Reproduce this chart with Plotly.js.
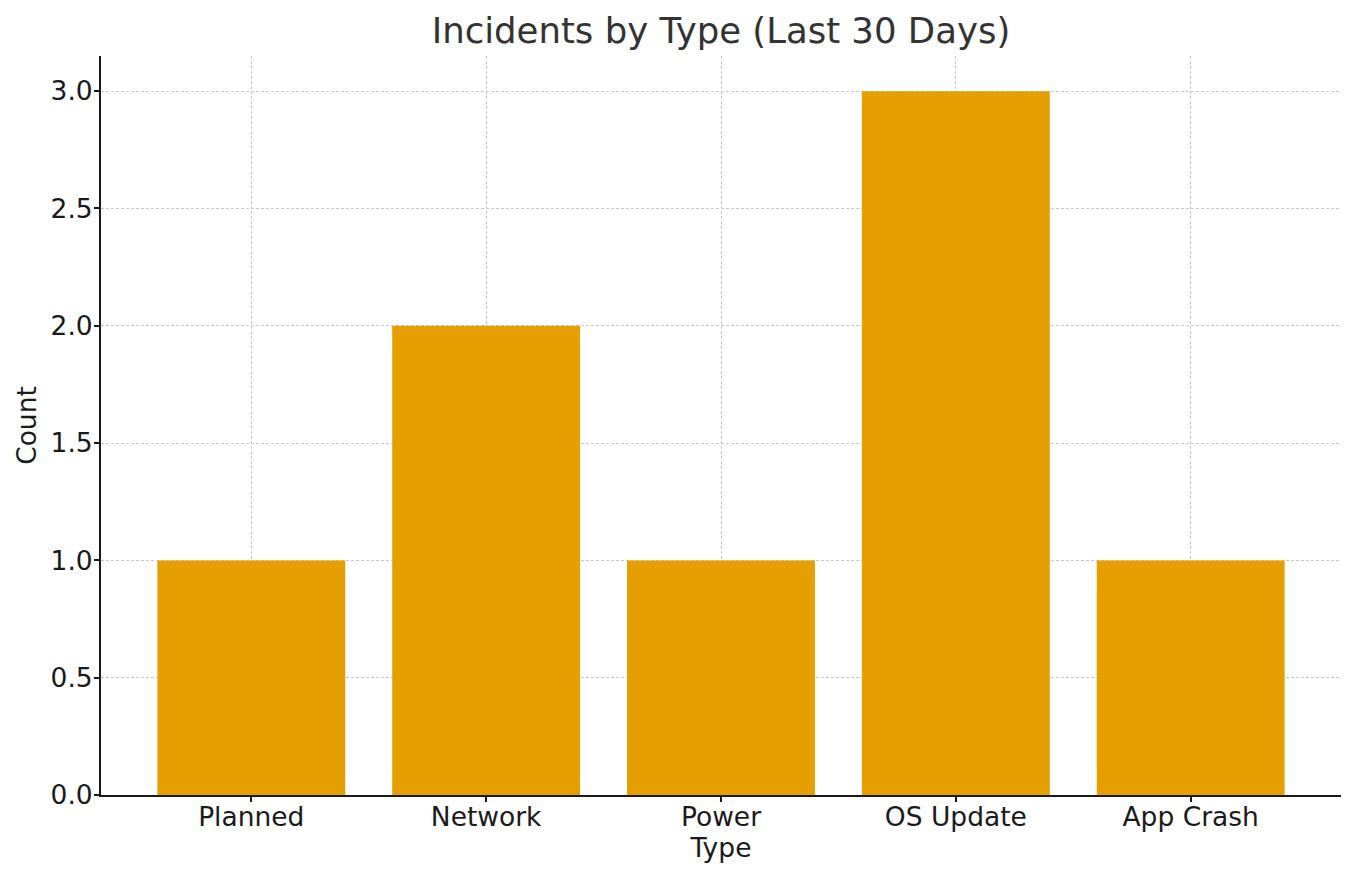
<!DOCTYPE html>
<html>
<head>
<meta charset="utf-8">
<script src="https://cdn.plot.ly/plotly-3.0.1.min.js"></script>
<style>
  body { margin: 0; background: #fff; }
  #chart { width: 1357px; height: 880px; }
</style>
</head>
<body>
<div id="chart"></div>
<script>
const types = ["Planned", "Network", "Power", "OS Update", "App Crash"];
const counts = [1, 2, 1, 3, 1];
const yTicks = [0, 0.5, 1, 1.5, 2, 2.5, 3];

const font = "DejaVu Sans, sans-serif";

Plotly.newPlot("chart", [{
    type: "bar",
    x: types,
    y: counts,
    width: 0.8,
    marker: {color: "#E69F00"},
    hoverinfo: "x+y"
  }], {
    width: 1357,
    height: 880,
    margin: {l: 101, r: 16, t: 56, b: 85},
    paper_bgcolor: "#fff",
    plot_bgcolor: "#fff",
    font: {family: font, size: 26.5, color: "#1a1a1a"},
    title: {text: "Incidents by Type (Last 30 Days)", font: {size: 35.5, color: "#333"}, xref: "paper", x: 0.5, xanchor: "center", y: 0.965, yanchor: "middle"},
    xaxis: {
      title: {text: "Type", font: {size: 26.5}, standoff: 8},
      range: [-0.64, 4.64],
      showline: true, linecolor: "#1a1a1a", linewidth: 2,
      ticks: "outside", ticklen: 5, tickwidth: 2, tickcolor: "#1a1a1a",
      ticklabelstandoff: -8,
      showgrid: true, gridcolor: "#c8c8c8", griddash: "3px,2px", gridwidth: 1,
      layer: "above traces",
      mirror: false
    },
    yaxis: {
      title: {text: "Count", font: {size: 26.5}, standoff: 6},
      range: [0, 3.15],
      tickvals: yTicks,
      ticktext: yTicks.map(v => v.toFixed(1)),
      showline: true, linecolor: "#1a1a1a", linewidth: 2,
      ticks: "outside", ticklen: 5, tickwidth: 2, tickcolor: "#1a1a1a",
      ticklabelstandoff: -4,
      showgrid: true, gridcolor: "#c8c8c8", griddash: "3px,2px", gridwidth: 1,
      zeroline: false,
      layer: "above traces"
    },
    bargap: 0.2,
    showlegend: false
  }, {staticPlot: true});
</script>
</body>
</html>
